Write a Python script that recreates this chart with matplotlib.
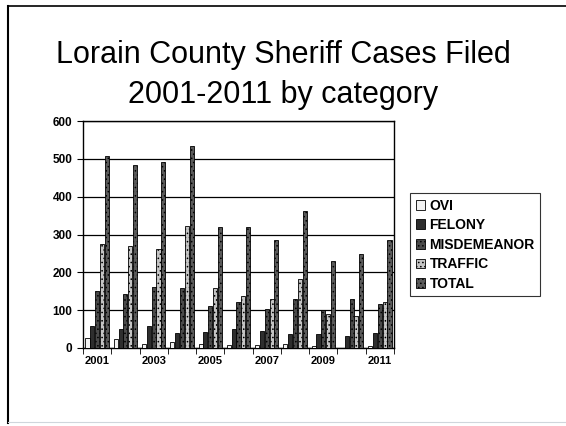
import matplotlib.pyplot as plt
import numpy as np

years = [2001, 2002, 2003, 2004, 2005, 2006, 2007, 2008, 2009, 2010, 2011]
ovi = [26, 24, 10, 15, 10, 9, 7, 11, 4, 1, 4]
felony = [57, 50, 57, 40, 42, 51, 46, 36, 38, 33, 40]
misdemeanor = [150, 143, 161, 158, 112, 122, 104, 130, 100, 129, 116]
traffic = [275, 270, 262, 323, 158, 137, 129, 183, 91, 85, 122]
total = [507, 485, 492, 535, 321, 320, 286, 361, 230, 248, 285]

labels = ['OVI', 'FELONY', 'MISDEMEANOR', 'TRAFFIC', 'TOTAL']
series = [ovi, felony, misdemeanor, traffic, total]
colors = ['#f2f2f2', '#2e2e2e', '#4a4a4a', '#c4c4c4', '#5a5a5a']
hatches = ['', '', '....', '....', '....']

plt.rcParams['font.family'] = ['Liberation Sans', 'DejaVu Sans']
plt.rcParams['hatch.color'] = '#999999'
plt.rcParams['hatch.linewidth'] = 0.6

fig = plt.figure(figsize=(5.66, 4.26), dpi=100)

# frame around slide
fig.add_artist(plt.Line2D([8 / 566, 8 / 566], [3 / 426, 420 / 426],
                          transform=fig.transFigure, color='black', lw=1.5))
fig.add_artist(plt.Line2D([8 / 566, 1.0], [420 / 426, 420 / 426],
                          transform=fig.transFigure, color='black', lw=1.2))
fig.add_artist(plt.Line2D([8 / 566, 1.0], [4 / 426, 4 / 426],
                          transform=fig.transFigure, color='#cfd6dc', lw=0.8))

fig.text(0.5, 1 - 55 / 426, 'Lorain County Sheriff Cases Filed', ha='center', va='center',
         fontsize=22)
fig.text(0.5, 1 - 95 / 426, '2001-2011 by category', ha='center', va='center',
         fontsize=22)

ax = fig.add_axes([83 / 566, 1 - 348 / 426, (394 - 83) / 566, (348 - 121) / 426])

x = np.arange(len(years))
w = 0.17
for i, (vals, lab) in enumerate(zip(series, labels)):
    ax.bar(x + (i - 2) * w, vals, width=w * 0.85, color=colors[i], edgecolor='black',
           linewidth=0.6, hatch=hatches[i], label=lab, zorder=3)

ax.set_xlim(-0.5, len(years) - 0.5)
ax.set_ylim(0, 600)
ax.set_yticks(range(0, 601, 100))
ax.yaxis.grid(True, color='black', lw=0.9, zorder=0)

ax.set_xticks(x[::2])
ax.set_xticklabels([str(y) for y in years[::2]], fontsize=8, fontweight='bold')
ax.set_xticks(np.arange(-0.5, len(years), 1), minor=True)
ax.tick_params(axis='x', which='major', length=0, pad=6)
ax.tick_params(axis='x', which='minor', length=4, direction='out')
ax.tick_params(axis='y', labelsize=8.5, length=4, direction='out')
for t in ax.get_yticklabels():
    t.set_fontweight('bold')
for s in ax.spines.values():
    s.set_linewidth(1.0)

leg = fig.legend(loc='upper left', bbox_to_anchor=(410 / 566, 1 - 193 / 426),
                 frameon=True, fancybox=False, edgecolor='black',
                 prop={'size': 10, 'weight': 'bold'}, handlelength=0.7,
                 handleheight=0.7, handletextpad=0.3, labelspacing=0.4,
                 borderpad=0.4, borderaxespad=0)
leg.get_frame().set_linewidth(0.8)

fig.savefig('out.png', dpi=100)
